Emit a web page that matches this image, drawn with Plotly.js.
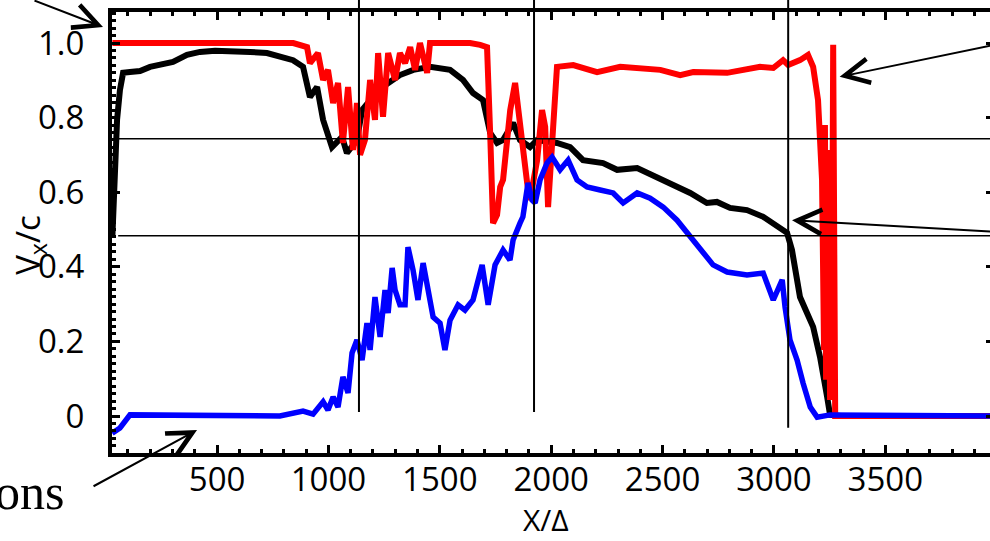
<!DOCTYPE html>
<html>
<head>
<meta charset="utf-8">
<script src="https://cdn.plot.ly/plotly-3.0.1.min.js"></script>
<style>
html,body{margin:0;padding:0;overflow:hidden;background:#fff;}
#chart{width:1000px;height:541px;}
</style>
</head>
<body>
<div id="chart"></div>
<script>
// ---- data ----
const blackX = [30,42,51,64,78,109,154,199,244,302,365,423,491,572,648,724,783,841,886,917,949,976,1016,1061,1083,1128,1151,1188,1254,1321,1381,1456,1546,1604,1649,1694,1726,1757,1784,1829,1860,1905,1937,2026,2085,2143,2233,2296,2386,2476,2548,2624,2699,2744,2803,2879,2952,3014,3059,3081,3117,3176,3207,3239,3252,3300,3990];
const blackY = [0.48,0.646,0.794,0.874,0.920,0.922,0.925,0.936,0.941,0.949,0.968,0.976,0.979,0.979,0.976,0.973,0.962,0.954,0.936,0.855,0.882,0.794,0.721,0.748,0.705,0.740,0.820,0.847,0.887,0.914,0.928,0.936,0.928,0.901,0.866,0.847,0.759,0.732,0.740,0.786,0.740,0.721,0.740,0.732,0.721,0.686,0.678,0.660,0.665,0.638,0.619,0.598,0.571,0.574,0.558,0.552,0.534,0.507,0.491,0.445,0.319,0.239,0.158,0.051,0.003,0.0,0.0];

const redX = [30,693,842,904,917,953,976,998,1021,1043,1065,1088,1110,1128,1142,1164,1187,1209,1223,1245,1268,1299,1321,1344,1367,1389,1411,1443,1456,1546,1636,1681,1712,1726,1739,1757,1771,1784,1816,1838,1860,1892,1905,1937,1959,1973,1986,2004,2026,2099,2206,2310,2490,2579,2638,2790,2938,2997,3041,3064,3117,3153,3176,3198,3216,3225,3229,3234,3243,3252,3261,3266,3270,3275,3990];
const redY = [1.0,1.0,1.0,0.989,0.946,0.973,0.901,0.928,0.839,0.893,0.732,0.882,0.713,0.839,0.700,0.740,0.901,0.794,0.973,0.802,0.973,0.901,0.973,0.946,0.989,0.928,1.0,0.920,1.0,1.0,1.0,0.995,0.989,0.759,0.517,0.539,0.614,0.633,0.820,0.893,0.775,0.625,0.579,0.686,0.820,0.775,0.560,0.732,0.936,0.941,0.922,0.936,0.928,0.914,0.922,0.920,0.936,0.933,0.954,0.941,0.954,0.968,0.936,0.847,0.633,0.177,0.780,0.097,0.713,0.043,0.311,0.995,0.311,0.0,0.0];

const blueX = [29,64,109,423,782,886,931,976,998,1021,1043,1065,1088,1106,1128,1151,1173,1187,1209,1232,1254,1268,1286,1299,1321,1344,1357,1380,1402,1425,1447,1470,1501,1523,1546,1582,1613,1649,1690,1717,1748,1784,1815,1829,1860,1873,1896,1914,1928,1950,1981,2004,2040,2076,2116,2161,2220,2278,2323,2386,2444,2503,2565,2624,2669,2727,2790,2879,2952,2997,3037,3050,3072,3104,3131,3163,3194,3252,3990];
const blueY = [-0.046,-0.032,0.003,0.0,0.0,0.013,0.005,0.038,0.016,0.051,0.024,0.105,0.062,0.169,0.204,0.150,0.249,0.177,0.319,0.212,0.338,0.276,0.397,0.338,0.298,0.298,0.453,0.391,0.311,0.410,0.338,0.265,0.249,0.177,0.257,0.298,0.284,0.311,0.405,0.298,0.405,0.445,0.418,0.472,0.517,0.534,0.625,0.579,0.571,0.633,0.678,0.694,0.660,0.686,0.633,0.614,0.606,0.598,0.571,0.598,0.584,0.560,0.525,0.480,0.445,0.405,0.386,0.378,0.383,0.311,0.365,0.292,0.204,0.150,0.088,0.024,-0.003,0.003,0.0];

const xTickVals = [500,1000,1500,2000,2500,3000,3500];
const xTickText = ["500","1000","1500","2000","2500","3000","3500"];
const yTickVals = [0,0.2,0.4,0.6,0.8,1.0];
const yTickText = ["0","0.2","0.4","0.6","0.8","1.0"];

// marker lines
const vLineX = [1137, 1923, 3064];
const hLineY = [0.743, 0.483];
// ---------------------------------------

const FONT = 'Open Sans, sans-serif';

const traces = [
  {x: blackX, y: blackY, mode: 'lines', line: {color: '#000000', width: 6}, showlegend: false},
  {x: redX, y: redY, mode: 'lines', line: {color: '#ff0000', width: 6}, showlegend: false},
  {x: blueX, y: blueY, mode: 'lines', line: {color: '#0000ff', width: 5.5}, showlegend: false}
];

const vBottoms = [0.093, 0.093, 0.057];
const shapes = [];
vLineX.forEach((v, i) => shapes.push({type: 'line', xref: 'x', yref: 'paper', x0: v, x1: v, y0: vBottoms[i], y1: 1.04, line: {color: '#000', width: 2}, layer: 'above'}));
hLineY.forEach(h => shapes.push({type: 'line', xref: 'paper', yref: 'y', x0: 0.007, x1: 1.0, y0: h, y1: h, line: {color: '#000', width: 1.5}, layer: 'above'}));

const arrowBase = {text: '', showarrow: true, arrowhead: 5, arrowsize: 2.4, arrowwidth: 2, arrowcolor: '#000', xref: 'paper', yref: 'paper', axref: 'pixel', ayref: 'pixel'};
const annotations = [
  Object.assign({}, arrowBase, {x: -0.0102, y: 0.966, ax: -70, ay: -40}),
  Object.assign({}, arrowBase, {x: 0.0964, y: 0.052, ax: -105, ay: 57}),
  Object.assign({}, arrowBase, {x: 0.825, y: 0.853, ax: 160, ay: -33}),
  Object.assign({}, arrowBase, {x: 0.771, y: 0.528, ax: 210, ay: 12}),
  {text: 'ons', showarrow: false, xref: 'paper', yref: 'paper', x: -0.052, y: -0.02, xanchor: 'right', yanchor: 'top',
   font: {family: 'Liberation Serif, Times New Roman, serif', size: 50, color: '#000'}},
  {text: 'X/Δ', showarrow: false, xref: 'paper', yref: 'paper', x: 0.492, y: -0.1995, xanchor: 'center', yanchor: 'bottom',
   borderpad: 0, font: {family: FONT, size: 30, color: '#000'}},
  {text: 'V<sub>x</sub>/c', showarrow: false, xref: 'paper', yref: 'paper', x: -0.093, y: 0.472, xanchor: 'center', yanchor: 'middle',
   textangle: -90, font: {family: FONT, size: 33, color: '#000'}}
];

const axisCommon = {
  showgrid: false, zeroline: false, showline: true, linecolor: '#000', linewidth: 4, mirror: 'allticks',
  ticks: 'inside', ticklen: 8, tickwidth: 3, tickcolor: '#000',
  tickfont: {family: FONT, size: 33, color: '#000'}
};

const layout = {
  width: 1000, height: 541,
  margin: {l: 112, r: 6, t: 12, b: 88},
  paper_bgcolor: '#fff', plot_bgcolor: '#fff',
  showlegend: false,
  xaxis: Object.assign({}, axisCommon, {
    range: [28.3, 3988], tickmode: 'array', tickvals: xTickVals, ticktext: xTickText,
    minor: {dtick: 100, ticks: 'inside', ticklen: 4, tickwidth: 3, tickcolor: '#000', showgrid: false},
    ticklabelstandoff: -6
  }),
  yaxis: Object.assign({}, axisCommon, {
    range: [-0.0992, 1.0831], tickmode: 'array', tickvals: yTickVals, ticktext: yTickText,
    minor: {dtick: 0.02, ticks: 'inside', ticklen: 4, tickwidth: 3, tickcolor: '#000', showgrid: false},
    ticklabelstandoff: 17
  }),
  shapes: shapes,
  annotations: annotations
};

Plotly.newPlot('chart', traces, layout, {staticPlot: true, displayModeBar: false});
</script>
</body>
</html>
